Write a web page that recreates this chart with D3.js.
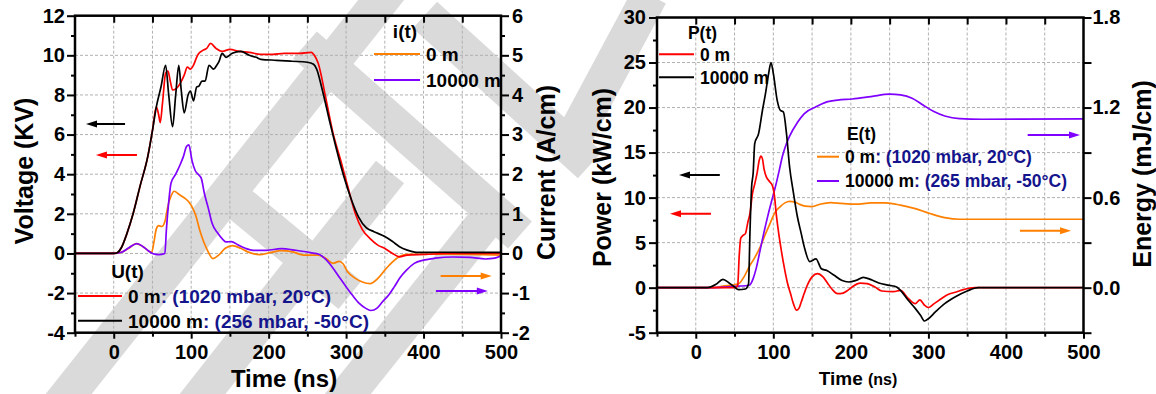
<!DOCTYPE html>
<html>
<head>
<meta charset="utf-8">
<script src="https://cdn.jsdelivr.net/npm/d3@7"></script>
<style>
  body { margin: 0; background: #fff; }
  svg text { font-family: "Liberation Sans", Arial, sans-serif; font-weight: bold; }
</style>
</head>
<body>
<svg id="chart" width="1156" height="394"></svg>
<script>
// ---- data: [time (ns), value] ----
const timeTicks = [0, 100, 200, 300, 400, 500];
const voltageTicks = [-4, -2, 0, 2, 4, 6, 8, 10, 12];
const currentTicks = [-2, -1, 0, 1, 2, 3, 4, 5, 6];
const powerTicks = [-5, 0, 5, 10, 15, 20, 25, 30];
const energyTicks = [0.0, 0.6, 1.2, 1.8];

// U(t), kV
const voltage0m = [[-50, 0], [0, 0], [5, 0.05], [10, 0.3], [17, 1.0], [25, 2.0], [34, 3.4], [44, 4.9], [50, 6.2],
  [55, 7.4], [58, 7.0], [60, 6.6], [63, 7.6], [67, 9.1], [70, 9.2], [73, 8.7], [76, 8.25], [80, 8.3], [86, 8.6],
  [91, 9.0], [95, 9.4], [99, 9.3], [103, 9.5], [107, 9.9], [110, 10.1], [115, 10.25], [120, 10.35], [125, 10.6],
  [132, 10.35], [140, 10.2], [150, 10.3], [162, 10.2], [175, 10.15], [190, 10.05], [205, 10.05], [220, 10.1],
  [240, 10.1], [255, 10.15], [259, 10.0], [264, 9.6], [274, 7.8], [283, 6.1], [293, 4.7], [302, 3.4], [312, 2.0],
  [321, 1.2], [331, 0.75], [341, 0.42], [350, 0.25], [360, 0.0], [369, -0.17], [379, -0.08], [403, -0.05],
  [427, 0], [500, 0]];
const voltage10km = [[-50, 0], [0, 0], [5, 0.05], [10, 0.3], [17, 1.0], [25, 2.0], [34, 3.4], [44, 4.9], [50, 6.2],
  [55, 7.4], [61, 8.4], [67, 9.5], [71, 8.0], [76, 6.4], [80, 8.0], [84, 9.5], [87, 8.3], [91, 7.1], [96, 8.0],
  [99, 8.2], [103, 7.7], [107, 8.4], [110, 8.45], [114, 8.7], [118, 8.7], [123, 9.5], [129, 9.3], [133, 9.5],
  [136, 9.7], [140, 10.1], [145, 9.9], [153, 10.1], [164, 10.2], [175, 10.0], [184, 9.9], [190, 9.8], [210, 9.75],
  [230, 9.7], [250, 9.65], [258, 9.55], [262, 9.3], [269, 8.3], [278, 6.8], [288, 5.2], [297, 3.9], [307, 2.7],
  [316, 1.85], [326, 1.3], [336, 1.1], [350, 0.85], [360, 0.6], [369, 0.34], [379, 0.17], [393, 0.05],
  [420, 0.06], [500, 0.05]];

// i(t), A/cm
const current0m = [[-50, 0], [0, 0], [10, 0.03], [20, 0.14], [29, 0.25], [38, 0.17], [45, 0.06], [49, 0.03],
  [52, 0.3], [55, 0.62], [58, 0.7], [62, 0.68], [66, 0.8], [70, 1.2], [74, 1.45], [78, 1.57], [85, 1.48],
  [92, 1.39], [97, 1.3], [101, 1.18], [106, 0.95], [111, 0.59], [116, 0.3], [121, 0.08], [128, -0.13],
  [135, -0.05], [144, 0.13], [153, 0.2], [164, 0.13], [173, 0.04], [188, -0.03], [202, 0.02], [216, 0.07],
  [231, 0.04], [245, -0.04], [264, -0.04], [274, -0.13], [283, -0.25], [291, -0.2], [296, -0.26], [302, -0.46],
  [312, -0.63], [321, -0.72], [331, -0.76], [341, -0.63], [350, -0.42], [360, -0.21], [369, -0.08],
  [379, -0.02], [427, -0.02], [500, -0.04]];
const current10km = [[-50, 0], [0, 0], [10, 0.03], [20, 0.15], [30, 0.25], [38, 0.17], [45, 0.06], [50, 0.0],
  [58, -0.03], [66, 0.0], [68, 0.6], [71, 1.3], [74, 1.78], [80, 2.0], [86, 2.25], [90, 2.45], [94, 2.7],
  [97, 2.74], [101, 2.35], [105, 2.1], [110, 1.98], [113, 1.9], [117, 1.52], [122, 1.15], [127, 0.76],
  [134, 0.52], [141, 0.35], [145, 0.29], [152, 0.3], [160, 0.22], [170, 0.13], [180, 0.08], [197, 0.08],
  [216, 0.12], [235, 0.08], [254, 0.02], [265, -0.02], [272, -0.12], [282, -0.34], [292, -0.62], [300, -0.84],
  [308, -1.05], [317, -1.26], [325, -1.38], [332, -1.44], [340, -1.38], [347, -1.22], [355, -1.05],
  [362, -0.85], [370, -0.6], [378, -0.42], [388, -0.25], [400, -0.17], [415, -0.12], [438, -0.09],
  [460, -0.1], [480, -0.14], [492, -0.12], [500, -0.06]];

// P(t), kW/cm
const power0m = [[-50, 0], [50, 0], [54, 0.2], [56, 3.5], [58, 5.5], [61, 5.8], [64, 6.0], [67, 7.2], [70, 8.3],
  [73, 10.4], [76, 11.5], [79, 12.7], [82, 14.2], [84, 14.6], [86, 14.3], [88, 13.2], [91, 12.3], [95, 11.8],
  [99, 11.3], [101, 10.5], [104, 8.0], [107, 6.0], [110, 4.3], [114, 2.3], [118, 0.6], [122, -0.6], [126, -1.8],
  [130, -2.5], [133, -2.3], [136, -1.6], [140, -0.6], [143, 0.1], [150, 1.2], [157, 1.55], [164, 1.2],
  [170, 0.5], [176, -0.2], [183, -0.67], [190, -0.6], [196, -0.3], [202, 0.1], [212, 0.5], [221, 0.45],
  [231, 0.07], [240, -0.37], [255, -0.45], [264, -0.3], [274, -1.2], [283, -1.78], [289, -1.35], [295, -1.95],
  [300, -2.2], [307, -1.8], [317, -1.2], [326, -0.74], [336, -0.48], [345, -0.22], [360, 0], [500, 0]];
const power10km = [[-50, 0], [15, 0], [26, 0.37], [35, 0.93], [43, 0.52], [50, 0.07], [55, -0.22], [64, -0.15],
  [68, 0.4], [70, 6.5], [72, 11.2], [74, 12.7], [76, 16.0], [81, 17.1], [86, 19.7], [90, 21.6], [94, 23.8],
  [97, 25.0], [100, 23.8], [105, 20.8], [109, 19.7], [113, 19.5], [117, 17.1], [121, 13.4], [126, 10.5],
  [131, 7.9], [136, 6.0], [140, 4.5], [147, 2.9], [155, 3.2], [162, 2.1], [169, 1.9], [178, 1.4], [188, 0.82],
  [197, 0.63], [207, 0.82], [216, 1.15], [226, 0.89], [236, 0.52], [250, 0.26], [259, 0.07], [264, -0.3],
  [274, -1.4], [283, -2.3], [290, -3.1], [295, -3.7], [300, -3.45], [309, -2.7], [321, -1.78], [336, -0.96],
  [350, -0.37], [364, 0], [500, 0]];

// E(t), mJ/cm
const energy0m = [[-50, 0], [20, 0], [35, 0.01], [55, 0.025], [62, 0.07], [69, 0.14], [76, 0.2], [83, 0.27],
  [90, 0.36], [96, 0.43], [102, 0.5], [109, 0.54], [115, 0.565], [121, 0.575], [128, 0.57], [134, 0.555],
  [141, 0.543], [150, 0.54], [160, 0.556], [174, 0.567], [188, 0.561], [207, 0.556], [226, 0.565], [245, 0.565],
  [264, 0.55], [283, 0.527], [302, 0.494], [321, 0.467], [340, 0.456], [369, 0.456], [500, 0.456]];
const energy10km = [[-50, 0], [20, 0], [36, 0.004], [55, 0.01], [69, 0.016], [74, 0.06], [78, 0.13], [83, 0.25],
  [88, 0.37], [93, 0.48], [100, 0.62], [104, 0.7], [108, 0.79], [112, 0.88], [117, 0.96], [121, 1.01],
  [131, 1.1], [140, 1.16], [155, 1.205], [169, 1.238], [183, 1.25], [202, 1.257], [226, 1.273], [250, 1.289],
  [264, 1.284], [279, 1.262], [293, 1.217], [307, 1.173], [321, 1.144], [340, 1.126], [369, 1.122], [500, 1.124]];

const RED = '#ff0000';
const ORANGE = '#ff8000';
const PURPLE = '#8000ff';
const NAVY = '#14148c';
const FONT = '"Liberation Sans", Arial, sans-serif';

const svg = d3.select('#chart');

// grey watermark strokes behind everything
const watermark = [
  [[397, -20], [52, 415]],
  [[235, 200], [350, 295]],
  [[485, 222], [335, 410]],
  [[390, 172], [300, 285]],
  [[305, 45], [520, 235]],
  [[425, 15], [590, 165]],
  [[190, 410], [300, 270]],
  [[650, -5], [575, 135]],
];
svg.append('g')
  .selectAll('line')
  .data(watermark)
  .enter()
  .append('line')
    .attr('x1', d => d[0][0]).attr('y1', d => d[0][1])
    .attr('x2', d => d[1][0]).attr('y2', d => d[1][1])
    .attr('stroke', '#dadada')
    .attr('stroke-width', 36);

function styleAxis(sel, fontSize) {
  sel.attr('font-size', null).attr('font-family', null);
  sel.select('.domain').remove();
  sel.selectAll('line').attr('stroke', '#000').attr('stroke-width', 2);
  sel.selectAll('text')
    .attr('fill', '#000')
    .attr('font-size', fontSize)
    .attr('font-family', FONT)
    .attr('font-weight', 'bold');
  return sel;
}

function arrow(g, x1, y1, x2, y2, color) {
  const dir = Math.sign(x2 - x1);
  g.append('line')
    .attr('x1', x1).attr('y1', y1).attr('x2', x2 - dir * 8).attr('y2', y2)
    .attr('stroke', color).attr('stroke-width', 2);
  g.append('path')
    .attr('d', `M${x2},${y2}L${x2 - dir * 11},${y2 - 3.5}L${x2 - dir * 11},${y2 + 3.5}Z`)
    .attr('fill', color);
}

function legendRow(g, x, y, color, label, note, size) {
  g.append('line')
    .attr('x1', x).attr('x2', x + (note ? 44 : 46)).attr('y1', y).attr('y2', y)
    .attr('stroke', color).attr('stroke-width', 2);
}

function drawPanel(p) {
  const g = svg.append('g');
  const [x0, x1] = p.x.range();
  const [yb, yt] = p.yL.range();

  const clipId = `clip-${p.id}`;
  g.append('clipPath').attr('id', clipId)
    .append('rect').attr('x', x0).attr('y', yt).attr('width', x1 - x0).attr('height', yb - yt);

  // dashed grid
  const grid = g.append('g').attr('stroke', '#b0b0b0').attr('stroke-width', 1).attr('stroke-dasharray', '3,2');
  grid.selectAll('.gx').data(d3.range(0, 500, 50)).enter().append('line')
    .attr('x1', d => p.x(d)).attr('x2', d => p.x(d)).attr('y1', yt).attr('y2', yb);
  grid.selectAll('.gy').data(p.gridY).enter().append('line')
    .attr('x1', x0).attr('x2', x1).attr('y1', d => p.yL(d)).attr('y2', d => p.yL(d));

  // curves
  const curves = g.append('g').attr('clip-path', `url(#${clipId})`);
  p.series.forEach((s) => {
    const line = d3.line().x(d => p.x(d[0])).y(d => s.y(d[1])).curve(d3.curveMonotoneX);
    curves.append('path')
      .datum(s.data)
      .attr('d', line)
      .attr('fill', 'none')
      .attr('stroke', s.color)
      .attr('stroke-width', 1.7)
      .attr('stroke-linejoin', 'round');
  });

  // axes
  styleAxis(g.append('g').attr('transform', `translate(0,${yb})`)
    .call(d3.axisBottom(p.x).tickValues(timeTicks).tickSize(6).tickPadding(6).tickSizeOuter(0)), p.tickSize);
  styleAxis(g.append('g').attr('transform', `translate(0,${yb})`)
    .call(d3.axisBottom(p.x).tickValues(d3.range(-50, 500, 100)).tickSize(4).tickFormat('').tickSizeOuter(0)), p.tickSize);
  styleAxis(g.append('g').attr('transform', `translate(0,${yt})`)
    .call(d3.axisTop(p.x).tickValues(d3.range(0, 500, 50)).tickSize(-7).tickFormat('').tickSizeOuter(0)), p.tickSize);

  styleAxis(g.append('g').attr('transform', `translate(${x0},0)`)
    .call(d3.axisLeft(p.yL).tickValues(p.ticksL).tickSize(8).tickPadding(p.padL).tickFormat(p.fmtL).tickSizeOuter(0)), p.tickSize);
  styleAxis(g.append('g').attr('transform', `translate(${x0},0)`)
    .call(d3.axisLeft(p.yL).tickValues(p.minorL).tickSize(4).tickFormat('').tickSizeOuter(0)), p.tickSize);
  styleAxis(g.append('g').attr('transform', `translate(${x1},0)`)
    .call(d3.axisRight(p.yR).tickValues(p.ticksR).tickSize(8).tickPadding(p.padR).tickFormat(p.fmtR).tickSizeOuter(0)), p.tickSize);
  if (p.minorR.length) {
    styleAxis(g.append('g').attr('transform', `translate(${x1},0)`)
      .call(d3.axisRight(p.yR).tickValues(p.minorR).tickSize(p.minorRSize).tickFormat('').tickSizeOuter(0)), p.tickSize);
  }

  g.append('rect')
    .attr('x', x0).attr('y', yt).attr('width', x1 - x0).attr('height', yb - yt)
    .attr('fill', 'none').attr('stroke', '#000').attr('stroke-width', 2.5);

  // arrows pointing at the axis each pair belongs to
  p.arrows.forEach(a => arrow(g, p.x(a.t1), a.y(a.v), p.x(a.t2), a.y(a.v), a.color));
  return g;
}

// left panel: voltage and current
const xL = d3.scaleLinear().domain([-50, 500]).range([75, 501]);
const yU = d3.scaleLinear().domain([-4, 12]).range([332.7, 15.7]);
const yI = d3.scaleLinear().domain([-2, 6]).range([332.7, 15.7]);

const gLeft = drawPanel({
  id: 'left', x: xL, yL: yU, yR: yI, tickSize: 20,
  gridY: [-2, 0, 2, 4, 6, 8, 10],
  ticksL: voltageTicks, minorL: d3.range(-3, 12, 2), padL: 2, fmtL: d => String(d),
  ticksR: currentTicks, minorR: d3.range(-1.5, 6, 1), minorRSize: 4, padR: 3, fmtR: d => String(d),
  series: [
    { data: current0m, y: yI, color: ORANGE },
    { data: current10km, y: yI, color: PURPLE },
    { data: voltage0m, y: yU, color: RED },
    { data: voltage10km, y: yU, color: '#000' },
  ],
  arrows: [
    { t1: 14.6, t2: -35.8, v: 6.53, y: yU, color: '#000' },
    { t1: 30, t2: -23, v: 4.97, y: yU, color: RED },
    { t1: 422, t2: 488, v: -0.57, y: yI, color: ORANGE },
    { t1: 416, t2: 483, v: -0.95, y: yI, color: PURPLE },
  ],
});

// right panel: power and energy
const xR = d3.scaleLinear().domain([-50, 500]).range([657, 1083.5]);
const yP = d3.scaleLinear().domain([-5, 30]).range([332.7, 17.5]);
const yE = d3.scaleLinear().domain([-0.3, 1.8]).range([332.7, 17.5]);

const gRight = drawPanel({
  id: 'right', x: xR, yL: yP, yR: yE, tickSize: 20,
  gridY: [0, 5, 10, 15, 20, 25],
  ticksL: powerTicks, minorL: d3.range(-2.5, 30, 5), padL: 3, fmtL: d => String(d),
  ticksR: d3.range(-0.3, 1.81, 0.3).map(d => +d.toFixed(1)), minorR: [], minorRSize: 4, padR: 1,
  fmtR: d => (energyTicks.includes(d) ? d.toFixed(1) : ''),
  series: [
    { data: energy0m, y: yE, color: ORANGE },
    { data: energy10km, y: yE, color: PURPLE },
    { data: power0m, y: yP, color: RED },
    { data: power10km, y: yP, color: '#000' },
  ],
  arrows: [
    { t1: 31, t2: -21.6, v: 12.5, y: yP, color: '#000' },
    { t1: 19.6, t2: -33.2, v: 8.2, y: yP, color: RED },
    { t1: 428, t2: 495.5, v: 1.017, y: yE, color: PURPLE },
    { t1: 418, t2: 484, v: 0.38, y: yE, color: ORANGE },
  ],
});

// axis titles
function title(x, y, text, size, rotate) {
  return svg.append('text')
    .attr('transform', `translate(${x},${y})${rotate ? ' rotate(-90)' : ''}`)
    .attr('text-anchor', 'middle')
    .attr('font-size', size)
    .attr('fill', '#000')
    .text(text);
}
title(33, 171, 'Voltage (KV)', 25, true);
title(555, 172.5, 'Current (A/cm)', 25, true);
title(284, 387, 'Time (ns)', 24, false);
title(611, 177.5, 'Power (kW/cm)', 25, true);
title(1151, 174, 'Energy (mJ/cm)', 25, true);
const tRight = title(858, 385, '', 19, false);
tRight.append('tspan').text('Time ');
tRight.append('tspan').attr('font-size', 16).text('(ns)');

// legends
function legend(entries, x, textX, size) {
  const g = svg.append('g').attr('font-size', size);
  entries.forEach((e) => {
    if (e.color) {
      g.append('line')
        .attr('x1', x).attr('x2', textX - 6).attr('y1', e.y).attr('y2', e.y)
        .attr('stroke', e.color).attr('stroke-width', 2);
    }
    const t = g.append('text').attr('x', e.title ? e.tx : textX).attr('y', e.base)
      .attr('text-anchor', e.title ? 'middle' : 'start').attr('fill', '#000');
    t.append('tspan').text(e.label);
    if (e.note) t.append('tspan').attr('fill', NAVY).text(e.note);
  });
}

legend([
  { title: true, tx: 405, base: 38, label: 'i(t)' },
  { color: ORANGE, y: 54, base: 61, label: '0 m' },
  { color: PURPLE, y: 80, base: 87, label: '10000 m' },
], 374, 426, 19);

legend([
  { title: true, tx: 127.5, base: 278, label: 'U(t)' },
  { color: RED, y: 296, base: 303, label: '0 m', note: ': (1020 mbar, 20°C)' },
  { color: '#000', y: 320.7, base: 328, label: '10000 m', note: ': (256 mbar, -50°C)' },
], 78, 128, 19);

legend([
  { title: true, tx: 702.5, base: 38.5, label: 'P(t)' },
  { color: RED, y: 54.3, base: 60.5, label: '0 m' },
  { color: '#000', y: 77.3, base: 83.5, label: '10000 m' },
], 659, 700, 17.5);

legend([
  { title: true, tx: 861.5, base: 140, label: 'E(t)' },
  { color: ORANGE, y: 156.7, base: 162.5, label: '0 m', note: ': (1020 mbar, 20°C)' },
  { color: PURPLE, y: 181, base: 186.5, label: '10000 m', note: ': (265 mbar, -50°C)' },
], 817, 845, 17.5);
</script>
</body>
</html>
